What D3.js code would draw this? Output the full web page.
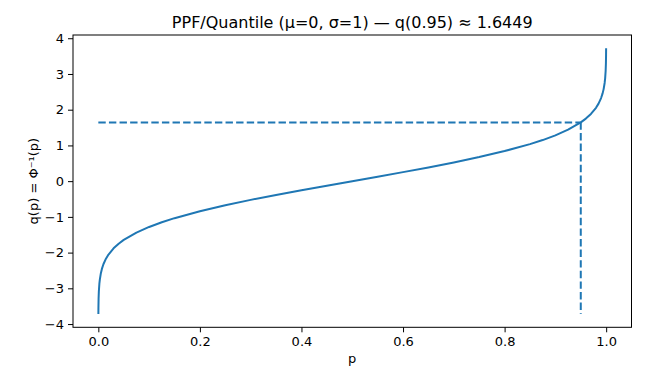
<!DOCTYPE html>
<html><head><meta charset="utf-8">
<script src="https://cdn.jsdelivr.net/npm/d3@7"></script>
<style>body{margin:0;background:#fff}svg{display:block}text{font-family:"DejaVu Sans",sans-serif}</style>
</head><body><svg id="c" width="665" height="370"></svg>
<script>
// Data (standard normal quantile curve)
const pLower = [0.0001, 0.0002, 0.0005, 0.001, 0.002, 0.003, 0.005, 0.007, 0.01, 0.015, 0.02, 0.03, 0.04, 0.05, 0.075, 0.1, 0.125, 0.15, 0.2, 0.25, 0.3, 0.35, 0.4, 0.45];
const qLower = [-3.719, -3.540, -3.291, -3.090, -2.878, -2.748, -2.576, -2.457, -2.326, -2.170, -2.054, -1.881, -1.751, -1.645, -1.440, -1.282, -1.150, -1.036, -0.842, -0.674, -0.524, -0.385, -0.253, -0.126];
const pMid = [0.5];
const qMid = [0];
const pUpper = [0.55, 0.6, 0.65, 0.7, 0.75, 0.8, 0.85, 0.875, 0.9, 0.925, 0.95, 0.96, 0.97, 0.98, 0.985, 0.99, 0.993, 0.995, 0.997, 0.998, 0.999, 0.9995, 0.9998, 0.9999];
const qUpper = [0.126, 0.253, 0.385, 0.524, 0.674, 0.842, 1.036, 1.150, 1.282, 1.440, 1.645, 1.751, 1.881, 2.054, 2.170, 2.326, 2.457, 2.576, 2.748, 2.878, 3.090, 3.291, 3.540, 3.719];
const pMark = 0.95;
const qMark = 1.6449;
const xTicks = [0.0, 0.2, 0.4, 0.6, 0.8, 1.0];
const yTicks = [-4, -3, -2, -1, 0, 1, 2, 3, 4];
const titleText = "PPF/Quantile (μ=0, σ=1) — q(0.95) ≈ 1.6449";
const xLabel = "p";
const yLabel = "q(p) = Φ⁻¹(p)";

const pAll = pLower.concat(pMid, pUpper);
const qAll = qLower.concat(qMid, qUpper);
const pts = pAll.map((p, i) => [p, qAll[i]]);

const L = 73, R = 631.5, T = 35, B = 327.3;
const pMin = d3.min(pAll), pMax = d3.max(pAll);
const qMin = d3.min(qAll), qMax = d3.max(qAll);
const px = (pMax - pMin) * 0.05, py = (qMax - qMin) * 0.05;
const x = d3.scaleLinear().domain([pMin - px, pMax + px]).range([L, R]);
const y = d3.scaleLinear().domain([qMin - py, qMax + py]).range([B, T]);

const svg = d3.select("#c");
const col = "#1f77b4";
const fmt = v => (v < 0 ? "\u2212" : "") + Math.abs(v);

// curve
svg.append("path").datum(pts)
  .attr("d", d3.line().x(d => x(d[0])).y(d => y(d[1])))
  .attr("fill", "none").attr("stroke", col).attr("stroke-width", 2)
  .attr("stroke-linejoin", "round").attr("stroke-linecap", "butt");

// dashed guides
svg.append("line").attr("x1", x(0)).attr("x2", x(pMark)).attr("y1", y(qMark)).attr("y2", y(qMark))
  .attr("stroke", col).attr("stroke-width", 2).attr("stroke-dasharray", "7.4,3.2");
svg.append("line").attr("x1", x(pMark)).attr("x2", x(pMark)).attr("y1", y(qMark)).attr("y2", y(qMin))
  .attr("stroke", col).attr("stroke-width", 2).attr("stroke-dasharray", "7.4,3.2");

// axes
const xAxis = d3.axisBottom(x).tickValues(xTicks).tickFormat(d3.format(".1f")).tickSize(5).tickPadding(4);
const yAxis = d3.axisLeft(y).tickValues(yTicks).tickFormat(fmt).tickSize(5).tickPadding(4);
const gx = svg.append("g").attr("transform", `translate(0,${B})`).call(xAxis);
const gy = svg.append("g").attr("transform", `translate(${L},0)`).call(yAxis);
[gx, gy].forEach(g => {
  g.select(".domain").remove();
  g.selectAll(".tick line").attr("stroke", "#000").attr("stroke-width", 1);
  g.selectAll(".tick text").attr("fill", "#000").attr("font-size", 13).attr("font-family", "DejaVu Sans");
});

// frame
svg.append("rect").attr("x", L).attr("y", T).attr("width", R - L).attr("height", B - T)
  .attr("fill", "none").attr("stroke", "#000").attr("stroke-width", 1);

// labels
svg.append("text").attr("x", (L + R) / 2).attr("y", 28).attr("text-anchor", "middle")
  .attr("font-size", 16).text(titleText);
svg.append("text").attr("x", (L + R) / 2).attr("y", 363).attr("text-anchor", "middle")
  .attr("font-size", 13).text(xLabel);
svg.append("text").attr("transform", `translate(38,${(T + B) / 2}) rotate(-90)`).attr("text-anchor", "middle")
  .attr("font-size", 13).text(yLabel);
</script></body></html>
